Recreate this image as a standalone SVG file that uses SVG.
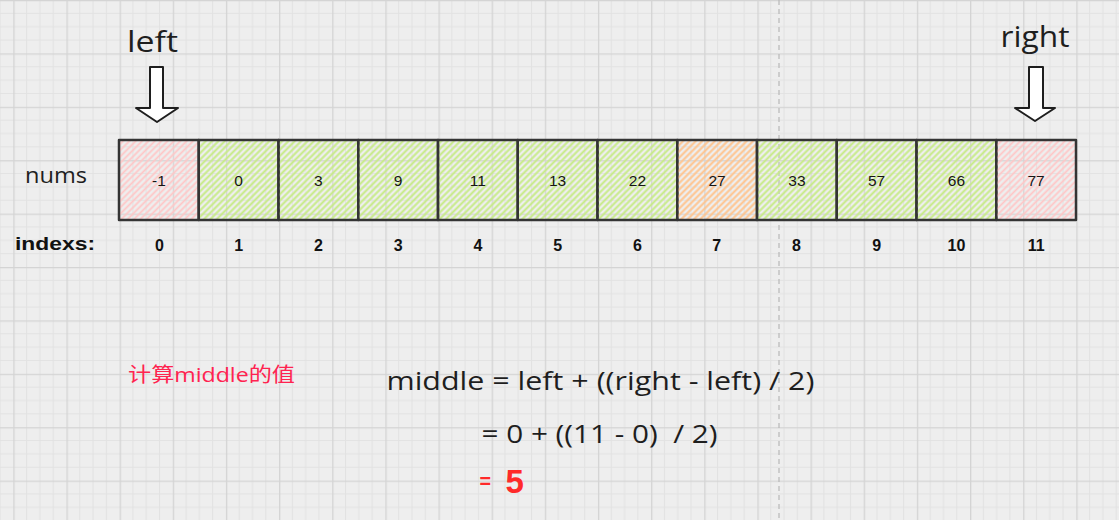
<svg xmlns="http://www.w3.org/2000/svg" width="1119" height="520" viewBox="0 0 1119 520">
<defs>
<pattern id="grid" x="13.3" y="0" width="53.15" height="53.4" patternUnits="userSpaceOnUse">
<rect width="53.15" height="53.4" fill="#eeeeee"/>
<path d="M13.3 0V53.4M26.6 0V53.4M39.9 0V53.4M0 13.35H53.15M0 26.7H53.15M0 40.05H53.15" stroke="#e2e2e2" stroke-width="1"/>
<path d="M0.6 0V53.4M0 0.6H53.15" stroke="#d4d4d4" stroke-width="1.4"/>
</pattern>
<pattern id="hPink" width="4.5" height="4.5" patternUnits="userSpaceOnUse" patternTransform="rotate(45)">
<line x1="2.25" y1="0" x2="2.25" y2="4.5" stroke="#ffc6c6" stroke-width="1.8"/>
</pattern>
<pattern id="hGreen" width="4.5" height="4.5" patternUnits="userSpaceOnUse" patternTransform="rotate(45)">
<line x1="2.25" y1="0" x2="2.25" y2="4.5" stroke="#c7eb86" stroke-width="2"/>
</pattern>
<pattern id="hOrange" width="4.5" height="4.5" patternUnits="userSpaceOnUse" patternTransform="rotate(45)">
<line x1="2.25" y1="0" x2="2.25" y2="4.5" stroke="#ffc48e" stroke-width="2"/>
</pattern>
</defs>
<style>
.hand{font-family:"Open Sans","Noto Sans","Liberation Sans",sans-serif;fill:#1e1e1e}
.cell{stroke:#343434;stroke-width:2.5;stroke-linejoin:round}
.val{font-family:"Liberation Sans",Arial,sans-serif;font-size:15.5px;fill:#151515;text-anchor:middle}
.idx{font-family:"Liberation Sans",Arial,sans-serif;font-size:16px;font-weight:bold;fill:#111;text-anchor:middle}
.pink{fill:url(#hPink)}
.green{fill:url(#hGreen)}
.orange{fill:url(#hOrange)}
.arrow{fill:#ffffff;stroke:#1e1e1e;stroke-width:2;stroke-linejoin:round}
.red{fill:#ff2350}
</style>
<rect width="1119" height="520" fill="url(#grid)"/>
<line x1="779" y1="0" x2="779" y2="520" stroke="#b8b8b8" stroke-width="1.2" stroke-dasharray="5 4"/>

<g id="label-left"><text class="hand" x="152.5" y="52" font-size="30" text-anchor="middle" textLength="51" lengthAdjust="spacingAndGlyphs">left</text></g>
<g id="label-right"><text class="hand" x="1035" y="47" font-size="30" text-anchor="middle" textLength="69" lengthAdjust="spacingAndGlyphs">right</text></g>
<g id="label-nums"><text class="hand" x="25" y="183" font-size="22" textLength="62" lengthAdjust="spacingAndGlyphs">nums</text></g>
<g id="label-indexs"><text x="15" y="250" font-family="Liberation Sans,Arial,sans-serif" font-size="19" font-weight="bold" fill="#111" textLength="80" lengthAdjust="spacingAndGlyphs">indexs:</text></g>

<g id="connectors">
<path class="arrow" d="M150 67 L163 67 L163 108 L178 108 L157 122 L136 108 L150 108 Z"/>
<path class="arrow" d="M1029 67 L1043 67 L1043 108 L1055 108 L1035 121 L1015 108 L1029 108 Z"/>
</g>

<g id="cell-0"><rect class="cell pink" x="119" y="140" width="79.75" height="80"/><text class="val" x="158.9" y="186">-1</text></g>
<g id="cell-1"><rect class="cell green" x="198.75" y="140" width="79.75" height="80"/><text class="val" x="238.6" y="186">0</text></g>
<g id="cell-2"><rect class="cell green" x="278.5" y="140" width="79.75" height="80"/><text class="val" x="318.4" y="186">3</text></g>
<g id="cell-3"><rect class="cell green" x="358.25" y="140" width="79.75" height="80"/><text class="val" x="398.1" y="186">9</text></g>
<g id="cell-4"><rect class="cell green" x="438" y="140" width="79.75" height="80"/><text class="val" x="477.9" y="186">11</text></g>
<g id="cell-5"><rect class="cell green" x="517.75" y="140" width="79.75" height="80"/><text class="val" x="557.6" y="186">13</text></g>
<g id="cell-6"><rect class="cell green" x="597.5" y="140" width="79.75" height="80"/><text class="val" x="637.4" y="186">22</text></g>
<g id="cell-7"><rect class="cell orange" x="677.25" y="140" width="79.75" height="80"/><text class="val" x="717.1" y="186">27</text></g>
<g id="cell-8"><rect class="cell green" x="757" y="140" width="79.75" height="80"/><text class="val" x="796.9" y="186">33</text></g>
<g id="cell-9"><rect class="cell green" x="836.75" y="140" width="79.75" height="80"/><text class="val" x="876.6" y="186">57</text></g>
<g id="cell-10"><rect class="cell green" x="916.5" y="140" width="79.75" height="80"/><text class="val" x="956.4" y="186">66</text></g>
<g id="cell-11"><rect class="cell pink" x="996.25" y="140" width="79.75" height="80"/><text class="val" x="1036.1" y="186">77</text></g>

<g id="indexes">
<text class="idx" x="159.5" y="251">0</text>
<text class="idx" x="238.6" y="251">1</text>
<text class="idx" x="318.4" y="251">2</text>
<text class="idx" x="398.1" y="251">3</text>
<text class="idx" x="477.9" y="251">4</text>
<text class="idx" x="557.6" y="251">5</text>
<text class="idx" x="637.4" y="251">6</text>
<text class="idx" x="716.6" y="251">7</text>
<text class="idx" x="796.4" y="251">8</text>
<text class="idx" x="876.6" y="251">9</text>
<text class="idx" x="956.4" y="251">10</text>
<text class="idx" x="1036.1" y="251">11</text>
</g>

<g id="note"><text class="red" x="128" y="382" font-family="Open Sans,Noto Sans CJK SC,sans-serif" font-size="20" textLength="167" lengthAdjust="spacingAndGlyphs">计算middle的值</text></g>

<g id="formula">
<text class="hand" x="386.5" y="390" font-size="25" textLength="428" lengthAdjust="spacingAndGlyphs">middle = left + ((right - left) / 2)</text>
<text class="hand" x="481.5" y="443" font-size="25" textLength="236" lengthAdjust="spacingAndGlyphs" xml:space="preserve">= 0 + ((11 - 0)  / 2)</text>
<text x="479.5" y="488" font-family="Liberation Sans,Arial,sans-serif" font-size="20" font-weight="bold" fill="#ff2a2a" textLength="11.5" lengthAdjust="spacingAndGlyphs">=</text>
<text x="505.5" y="493" font-family="Liberation Sans,Arial,sans-serif" font-size="33" font-weight="bold" fill="#ff2a2a">5</text>
</g>
</svg>
